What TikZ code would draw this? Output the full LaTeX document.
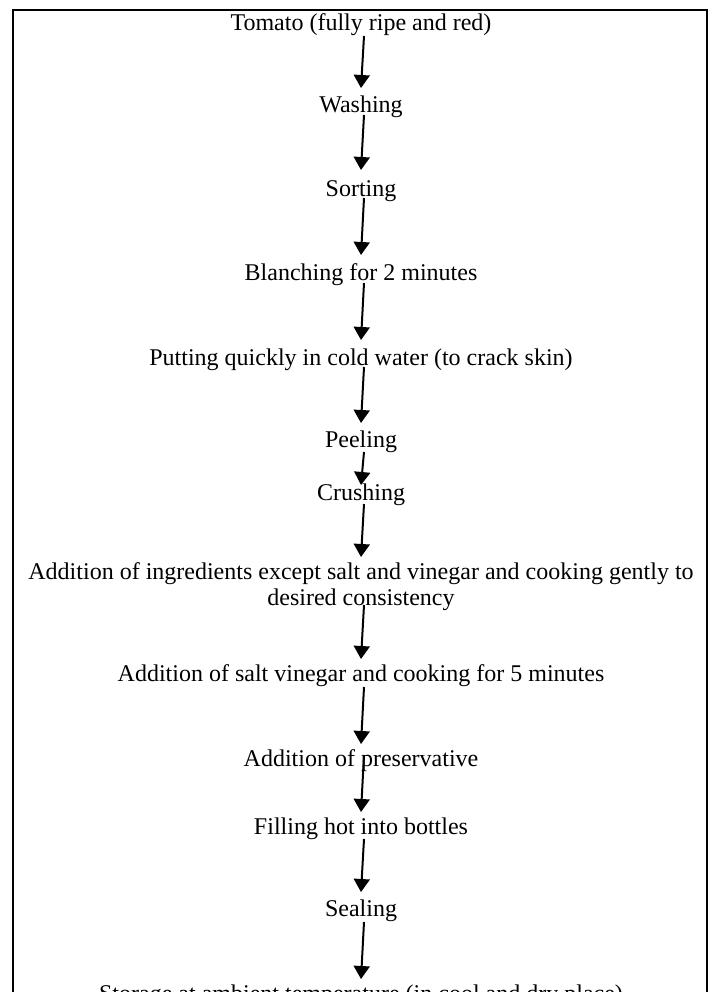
\documentclass[tikz,border=0pt]{standalone}
\usepackage{fontspec}
\setmainfont{Liberation Serif}
\usetikzlibrary{arrows.meta,calc}

\tikzset{every picture/.style={line width=2pt}}
\tikzset{
	stage/.style={anchor=base, inner sep=0pt, font=\fontsize{24}{26}\selectfont, align=center},
	flowline/.style={-{Triangle[length=13pt,width=16pt]}, line width=2pt}
}

\begin{document}
\begin{tikzpicture}[x=1pt,y=1pt,yscale=-1]
	\useasboundingbox (0,0) rectangle (715,992);
	
	%Frame (runs on below the page)
	\draw [line width=2pt] (13,1015) -- (13,10) -- (707,10) -- (707,1015) ;
	
	% Text Node
	\node [stage] (tomato) at (361,31) {Tomato (fully ripe and red)};
	% Text Node
	\node [stage] (washing) at (361,113) {Washing};
	% Text Node
	\node [stage] (sorting) at (361,197) {Sorting};
	% Text Node
	\node [stage] (blanching) at (361,280) {Blanching for 2 minutes};
	% Text Node
	\node [stage] (coldwater) at (361,365) {Putting quickly in cold water (to crack skin)};
	% Text Node
	\node [stage] (peeling) at (361,447) {Peeling};
	% Text Node
	\node [stage] (crushing) at (361,500) {Crushing};
	% Text Node (base is on its second line)
	\node [stage] (ingredients) at (361,605) {Addition of ingredients except salt and vinegar and cooking gently to\\desired consistency};
	% Text Node
	\node [stage] (saltvinegar) at (361,681) {Addition of salt vinegar and cooking for 5 minutes};
	% Text Node
	\node [stage] (preservative) at (361,766) {Addition of preservative};
	% Text Node
	\node [stage] (filling) at (361,834) {Filling hot into bottles};
	% Text Node
	\node [stage] (sealing) at (361,916) {Sealing};
	% Text Node
	\node [stage] (storage) at (361,1001) {Storage at ambient temperature (in cool and dry place)};
	
	%Straight Lines
	\draw [flowline] ($(tomato.base)+(3,5)$) -- ($(washing.base)+(0,-25)$) ;
	\draw [flowline] ($(washing.base)+(3,2)$) -- ($(sorting.base)+(0,-27)$) ;
	\draw [flowline] ($(sorting.base)+(3,1)$) -- ($(blanching.base)+(0,-25)$) ;
	\draw [flowline] ($(blanching.base)+(3,3)$) -- ($(coldwater.base)+(0,-25)$) ;
	\draw [flowline] ($(coldwater.base)+(3,2)$) -- ($(peeling.base)+(0,-24)$) ;
	\draw [flowline] ($(peeling.base)+(3,5)$) -- ($(crushing.base)+(0,-15)$) ;
	\draw [flowline] ($(crushing.base)+(3,4)$) -- ($(ingredients.base)+(0,-48)$) ;
	\draw [flowline] ($(ingredients.base)+(3,0)$) -- ($(saltvinegar.base)+(0,-22)$) ;
	\draw [flowline] ($(saltvinegar.base)+(3,6)$) -- ($(preservative.base)+(0,-22)$) ;
	\draw [flowline] ($(preservative.base)+(3,-11)$) -- ($(filling.base)+(0,-22)$) ;
	\draw [flowline] ($(filling.base)+(3,5)$) -- ($(sealing.base)+(0,-24)$) ;
	\draw [flowline] ($(sealing.base)+(3,6)$) -- ($(storage.base)+(0,-22)$) ;
	
\end{tikzpicture}
\end{document}
